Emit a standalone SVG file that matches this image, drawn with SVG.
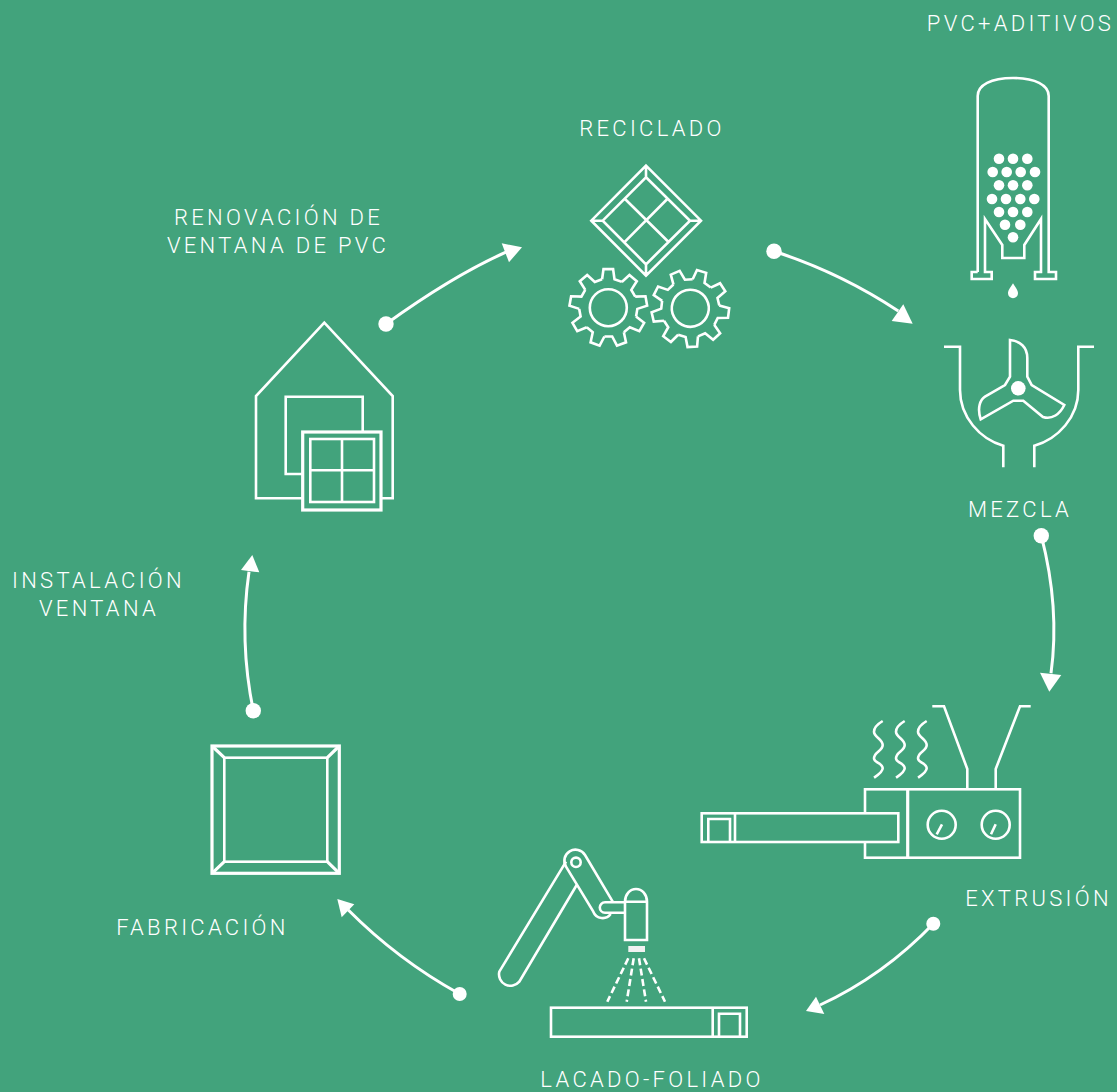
<svg xmlns="http://www.w3.org/2000/svg" width="1117" height="1092" viewBox="0 0 1117 1092">
<style>
.l{fill:none;stroke:#fff;stroke-width:2.6;stroke-linejoin:miter}
.t{stroke-width:3.2}
.c{fill:none;stroke:#fff;stroke-width:3}
.f{fill:#fff}
.b{fill:#42a37c;stroke:#fff;stroke-width:2.6}
text{font-family:Roboto,"Liberation Sans",sans-serif;font-size:22px;font-weight:300;letter-spacing:3.3px;fill:#fff;text-anchor:middle}
</style>
<defs>
<path id="tooth" class="l" d="M-6.2-28.4L-4.8-38.6 4.8-38.6 6.2-28.4 13.5-25.8"/>
<g id="gear">
<use href="#tooth"/><use href="#tooth" transform="rotate(40)"/><use href="#tooth" transform="rotate(80)"/><use href="#tooth" transform="rotate(120)"/><use href="#tooth" transform="rotate(160)"/><use href="#tooth" transform="rotate(200)"/><use href="#tooth" transform="rotate(240)"/><use href="#tooth" transform="rotate(280)"/><use href="#tooth" transform="rotate(320)"/>
<circle class="l" r="18.5"/>
</g>
<path id="wave" class="l" d="M882.7 721C876 725 874 728 874 731.7C874 737 882.7 739 882.7 745C882.7 751 874 752 874 758.3C874 763 882.7 763 882.7 768.3C882.7 772 878 775 874 777.7"/>
</defs>
<rect width="1117" height="1092" fill="#42a37c"/>
<g id="connectors">
<path class="c" d="M386 324Q454 275 507 251.7"/><circle class="f" cx="386" cy="324" r="7.7"/><polygon class="f" points="522,247.3 501.7,243.3 509,262.3"/>
<path class="c" d="M774 251.3Q840 272.500 898.300 311"/><circle class="f" cx="774" cy="251.3" r="7.7"/><polygon class="f" points="912.7,323.7 903.3,304.3 891.7,321"/>
<path class="c" d="M1041.3 535.7Q1060 608 1051 673.3"/><circle class="f" cx="1041.3" cy="535.7" r="7.7"/><polygon class="f" points="1049.3,691.7 1040,672.7 1061.3,675"/>
<path class="c" d="M933.3 923.7Q883.4 975.6 820 1005"/><circle class="f" cx="933.3" cy="923.7" r="7"/><polygon class="f" points="806,1011 816,996.7 824.3,1014"/>
<path class="c" d="M459.7 994Q398 960 348.3 910"/><circle class="f" cx="459.7" cy="994" r="7"/><polygon class="f" points="337.3,899 354.3,904.3 341.7,917.3"/>
<path class="c" d="M253.3 710.7Q239 641 249 571.7"/><circle class="f" cx="253.3" cy="710.7" r="7.7"/><polygon class="f" points="252.3,555 241,570 259.3,572.3"/>
</g>
<g id="pvc-aditivos">
<text x="1020.500" y="31">PVC+ADITIVOS</text>
<path class="l" d="M977.700 272H971.700V279H991.700V272H985V219L1002.300 245V258H1024.300V245L1041 219V272H1035V279H1056V272H1048.700V96C1048.700 85 1035 78 1013 78C991 78 977.700 85 977.700 96V272"/>
<g class="f"><circle cx="999" cy="158.700" r="5.300"/><circle cx="1013" cy="158.700" r="5.300"/><circle cx="1027.300" cy="158.700" r="5.300"/><circle cx="992.700" cy="172" r="5.300"/><circle cx="1006.700" cy="172" r="5.300"/><circle cx="1020.700" cy="172" r="5.300"/><circle cx="1035" cy="172" r="5.300"/><circle cx="999" cy="185.300" r="5.300"/><circle cx="1013" cy="185.300" r="5.300"/><circle cx="1027.300" cy="185.300" r="5.300"/><circle cx="992" cy="199" r="5.300"/><circle cx="1006" cy="199" r="5.300"/><circle cx="1020.300" cy="199" r="5.300"/><circle cx="1034.300" cy="199" r="5.300"/><circle cx="999" cy="212" r="5.300"/><circle cx="1013" cy="212" r="5.300"/><circle cx="1027.300" cy="212" r="5.300"/><circle cx="1005" cy="224.700" r="5.300"/><circle cx="1020.300" cy="224.700" r="5.300"/><circle cx="1013" cy="237.300" r="5.300"/></g>
<path class="f" d="M1013 283.300C1010 288 1008 290.500 1008 293.300A5 5 0 0 0 1018 293.300C1018 290.500 1016 288 1013 283.300Z"/>
</g>
<g id="mezcla">
<path class="l" d="M944 346.700H960V390C960 417 980 439 1003.300 445.700V467.300"/>
<path class="l" d="M1094 346.700H1078.300V390C1078.300 417 1058 439 1034.300 445.700V467.300"/>
<path class="l" d="M1010 340C1020 341 1027.300 347 1027.300 358V376.700L1031.700 385L1064.300 405C1060 414 1052 420 1043 417L1023.300 400.700H1013.300L980.700 419.300C977 408 980 400 985 396.700L1005 385L1010 376.700Z"/>
<circle class="f" cx="1018.300" cy="388.300" r="7.300"/>
<text x="1020" y="517">MEZCLA</text>
</g>
<g id="reciclado">
<text x="652" y="136">RECICLADO</text>
<path class="l" d="M646 165.700L701 220.700 646 275.700 591.300 220.700ZM646 177.300L690 220.700 646 264.300 602.700 220.700ZM646 165.700V177.300M701 220.700H690M646 275.700V264.300M591.300 220.700H602.700M625 199L668.300 241.700M667.300 199L625 241.700"/>
<use href="#gear" x="608.300" y="307.700"/>
<use href="#gear" transform="translate(690.300 308.300) rotate(17)"/>
</g>
<g id="extrusion">
<use href="#wave"/><use href="#wave" x="22"/><use href="#wave" x="44"/>
<path class="l" d="M932.300 706.300H944L967.300 769V789.300M1030.700 706.300H1020L995.700 769V789.300"/>
<rect class="l" x="865" y="789.300" width="155" height="68.400"/>
<path class="l t" d="M907.700 789.300V857.700"/>
<rect class="b" x="701.700" y="813.300" width="196.600" height="28.700"/>
<path class="l" d="M735 813.300V842M708.300 842V819H730V842"/>
<circle class="l" cx="941.700" cy="824.700" r="14"/><circle class="l" cx="995.700" cy="824.700" r="14"/>
<path class="l" d="M936.700 834.300L942 824.300M991 834.300L995.700 824.300"/>
<text x="1038.500" y="906">EXTRUSIÓN</text>
</g>
<g id="lacado-foliado">
<path class="l" d="M566 861.700L499.300 971.700A11.500 11.500 0 0 0 519.300 981.700L576.700 885"/>
<circle class="l" cx="576" cy="862.300" r="4.700"/>
<path class="l" d="M566 866.700A11 11 0 0 1 585 855L612.700 901.700M566 866.700L593.300 911.700A10 10 0 0 0 610.700 914"/>
<path class="l" d="M625 902.300H605A5.200 5.200 0 0 0 605 912.700H625"/>
<path class="l" d="M625 940V901.700A11 12.700 0 0 1 647 901.700V940ZM625 901.700H647"/>
<rect x="628.300" y="946" width="16.700" height="6" fill="#f2f2f2"/>
<path class="l" stroke-dasharray="7 3.500" d="M628.300 958.300L607.300 1001.700M633.700 958.300L626.700 1001.700M639 958.300L646 1001.700M644 958.300L665 1001.700"/>
<rect class="l" x="551" y="1007.700" width="195.700" height="29"/>
<path class="l" d="M712.700 1007.700V1036.700M719 1036.700V1013.700H740V1036.700"/>
<text x="652" y="1087">LACADO-FOLIADO</text>
</g>
<g id="fabricacion">
<rect class="l t" x="212" y="746" width="127.300" height="127.300"/>
<rect class="l" x="224.300" y="757.700" width="103" height="104"/>
<path class="l t" d="M212 746L224.300 757.700M339.300 746L327.300 757.700M212 873.300L224.300 861.700M339.300 873.300L327.300 861.700"/>
<text x="202.500" y="935">FABRICACIÓN</text>
</g>
<g id="instalacion-ventana">
<text x="98.500" y="588">INSTALACIÓN</text>
<text x="99" y="616">VENTANA</text>
</g>
<g id="renovacion">
<text x="278.500" y="225">RENOVACIÓN DE</text>
<text x="278" y="253">VENTANA DE PVC</text>
<path class="l" d="M302.700 498.300H256V396L324.300 322.700L392.700 396V498.300H381"/>
<path class="l" d="M302.700 474H285.700V396.700H362.700V432"/>
<rect class="l t" x="302.700" y="432" width="78.300" height="78"/>
<rect class="l" x="310.300" y="439" width="63.700" height="63"/>
<path class="l" d="M342 439V502M310.300 470.300H374"/>
</g>
</svg>
